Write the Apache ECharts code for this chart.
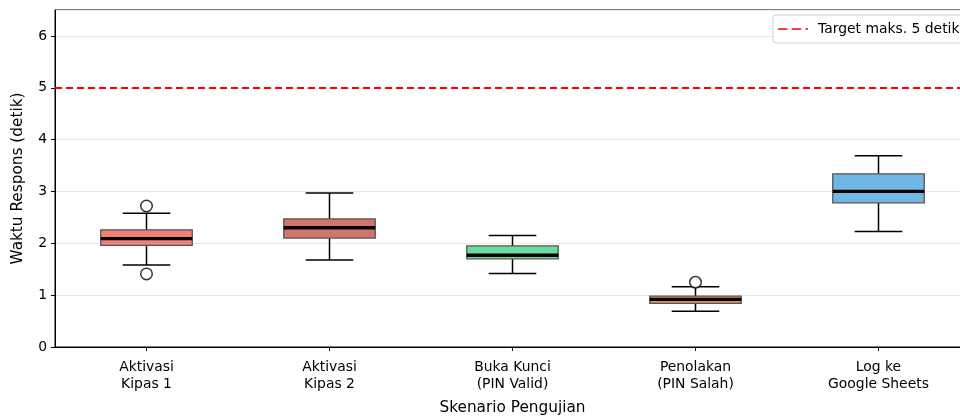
<!DOCTYPE html>
<html>
<head>
<meta charset="utf-8">
<script src="https://cdn.jsdelivr.net/npm/echarts@6/dist/echarts.min.js"></script>
<style>html,body{margin:0;padding:0;background:#fff}#c{width:960px;height:418px}</style>
</head>
<body>
<div id="c"></div>
<script>
// Categories (x-axis tick labels)
var categories = ['Aktivasi\nKipas 1', 'Aktivasi\nKipas 2', 'Buka Kunci\n(PIN Valid)', 'Penolakan\n(PIN Salah)', 'Log ke\nGoogle Sheets'];
// Box statistics: [lower whisker, Q1, median, Q3, upper whisker]
var lowWhisker = [1.58, 1.68, 1.42, 0.69, 2.23];
var q1Values   = [1.96, 2.10, 1.70, 0.84, 2.78];
var medians    = [2.09, 2.30, 1.77, 0.92, 3.00];
var q3Values   = [2.26, 2.47, 1.95, 0.98, 3.34];
var highWhisker= [2.58, 2.97, 2.15, 1.16, 3.69];
// Outliers: [category index, value]
var outliers = [[0, 2.72], [0, 1.41], [3, 1.25]];
var boxColors = ['#ee8277', '#d3746b', '#6ddb9c', '#e3904f', '#71b7e6'];
var yTicks = [0, 1, 2, 3, 4, 5, 6];
var targetValue = 5;
var targetName = 'Target maks. 5 detik';

var font = 'DejaVu Sans';
var boxData = categories.map(function (c, i) {
  return [i, lowWhisker[i], q1Values[i], medians[i], q3Values[i], highWhisker[i]];
});

var chart = echarts.init(document.getElementById('c'), null, {renderer: 'canvas'});
chart.setOption({
  animation: false,
  backgroundColor: '#fff',
  grid: {left: 55, top: 10, width: 915, height: 337, outerBoundsMode: 'none', containLabel: false,
    show: true, borderColor: '#000', borderWidth: 1, backgroundColor: 'transparent'},
  legend: {
    left: 773, top: 15,
    data: [{name: targetName, icon: 'path://M0,0 h11 v2 h-11 z M16,0 h11 v2 h-11 z M32,0 h3 v2 h-3 z'}],
    itemWidth: 30, itemHeight: 2.5, itemGap: 10,
    backgroundColor: '#fff', borderColor: '#d0d0d0', borderWidth: 1, borderRadius: 3,
    padding: [7, 10, 7, 5],
    textStyle: {fontFamily: font, fontSize: 13.9, color: '#000', padding: [0, 0, 0, 5]}
  },
  xAxis: {
    type: 'category', data: categories,
    name: 'Skenario Pengujian', nameLocation: 'middle', nameGap: 54,
    nameTextStyle: {fontFamily: font, fontSize: 15.3, color: '#000'},
    axisLine: {show: true, lineStyle: {color: '#000', width: 1}},
    axisTick: {show: true, alignWithLabel: true, length: 4, lineStyle: {color: '#000'}},
    axisLabel: {fontFamily: font, fontSize: 13.9, color: '#000', margin: 12, lineHeight: 17},
    splitLine: {show: false}
  },
  yAxis: {
    type: 'value', min: 0, max: 6.5, interval: 1,
    name: 'Waktu Respons (detik)', nameLocation: 'middle', nameGap: 29, nameRotate: 90,
    nameTextStyle: {fontFamily: font, fontSize: 15.3, color: '#000'},
    axisLine: {show: true, lineStyle: {color: '#000', width: 1}},
    axisTick: {show: true, length: 4, lineStyle: {color: '#000'}},
    axisLabel: {fontFamily: font, fontSize: 13.9, color: '#000', margin: 8, showMaxLabel: false,
      formatter: function (v) { return yTicks.indexOf(v) >= 0 ? String(v) : ''; }},
    splitLine: {show: true, lineStyle: {color: '#e8e8e8', width: 1}}
  },
  series: [
    {
      type: 'custom',
      name: 'boxes',
      data: boxData,
      z: 3,
      renderItem: function (params, api) {
        var idx = api.value(0);
        var low = api.coord([idx, api.value(1)]);
        var q1 = api.coord([idx, api.value(2)]);
        var med = api.coord([idx, api.value(3)]);
        var q3 = api.coord([idx, api.value(4)]);
        var high = api.coord([idx, api.value(5)]);
        var band = api.size([1, 0])[0];
        var bw = band * 0.5, cw = band * 0.26;
        var x = low[0];
        var wStyle = {stroke: '#000', lineWidth: 1.5};
        return {
          type: 'group',
          children: [
            {type: 'line', shape: {x1: x, y1: low[1], x2: x, y2: q1[1]}, style: wStyle},
            {type: 'line', shape: {x1: x, y1: q3[1], x2: x, y2: high[1]}, style: wStyle},
            {type: 'line', shape: {x1: x - cw / 2, y1: low[1], x2: x + cw / 2, y2: low[1]}, style: wStyle},
            {type: 'line', shape: {x1: x - cw / 2, y1: high[1], x2: x + cw / 2, y2: high[1]}, style: wStyle},
            {type: 'rect', shape: {x: x - bw / 2, y: q3[1], width: bw, height: q1[1] - q3[1]},
              style: {fill: boxColors[params.dataIndex], stroke: '#555', lineWidth: 1.3}},
            {type: 'line', shape: {x1: x - bw / 2, y1: med[1], x2: x + bw / 2, y2: med[1]}, style: {stroke: '#000', lineWidth: 3.3}}
          ]
        };
      }
    },
    {
      type: 'scatter', name: 'outliers', data: outliers, z: 4,
      symbol: 'circle', symbolSize: 11.5,
      itemStyle: {color: '#fff', borderColor: '#000', borderWidth: 1.5}
    },
    {
      type: 'line', name: targetName, data: [], z: 5,
      color: '#ff0000',
      itemStyle: {color: '#ff0000'},
      lineStyle: {color: '#ff0000', type: 'dashed', width: 2},
      markLine: {
        silent: true, symbol: 'none', label: {show: false},
        lineStyle: {color: '#ff0000', type: [7, 4], width: 2},
        data: [{yAxis: targetValue}]
      }
    }
  ]
});
</script>
</body>
</html>
